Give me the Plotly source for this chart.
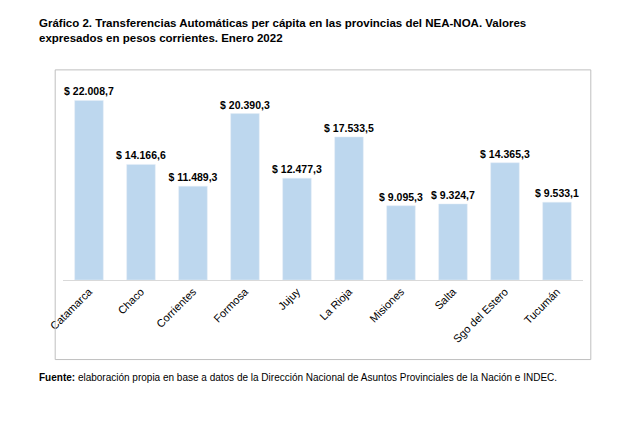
import plotly.graph_objects as go

provincias = ["Catamarca", "Chaco", "Corrientes", "Formosa", "Jujuy", "La Rioja",
              "Misiones", "Salta", "Sgo del Estero", "Tucumán"]
valores = [22008.7, 14166.6, 11489.3, 20390.3, 12477.3, 17533.5, 9095.3, 9324.7, 14365.3, 9533.1]

def fmt(v):
    s = f"{v:,.1f}"
    s = s.replace(",", "X").replace(".", ",").replace("X", ".")
    return "$ " + s

etiquetas = [fmt(v) for v in valores]

fig = go.Figure(go.Bar(
    x=provincias, y=valores, text=etiquetas, textposition="outside",
    marker_color="#BDD7EE", width=0.55, cliponaxis=False, constraintext="none",
    textfont=dict(family="Liberation Sans", size=10.5, color="black"),
))

fig.update_layout(
    width=631, height=422, plot_bgcolor="white", paper_bgcolor="white",
    margin=dict(l=55, r=56, t=68, b=150, autoexpand=False), showlegend=False,
    font=dict(family="Liberation Sans", color="black"),
    yaxis=dict(range=[0, 25000], visible=False),
    xaxis=dict(tickangle=-45, tickfont=dict(size=11), showline=True, automargin=False,
               linecolor="#D9D9D9", linewidth=1, ticks=""),
)
fig.update_traces(texttemplate="<b>%{text}</b>")

fig.add_shape(type="rect", xref="paper", yref="paper", x0=-0.015, x1=1.015,
              y0=-0.39, y1=1.03, line=dict(color="#BFBFBF", width=1))

fig.add_annotation(xref="paper", yref="paper", x=-0.05, y=1.30, xanchor="left", yanchor="top",
                   align="left", showarrow=False,
                   text="<b>Gráfico 2. Transferencias Automáticas per cápita en las provincias del NEA-NOA. Valores<br>expresados en pesos corrientes. Enero 2022</b>",
                   font=dict(size=11.5))
fig.add_annotation(xref="paper", yref="paper", x=-0.05, y=-0.48, xanchor="left", yanchor="middle",
                   showarrow=False,
                   text="<b>Fuente:</b> elaboración propia en base a datos de la Dirección Nacional de Asuntos Provinciales de la Nación e INDEC.",
                   font=dict(size=10))

fig.write_html("out.html")
